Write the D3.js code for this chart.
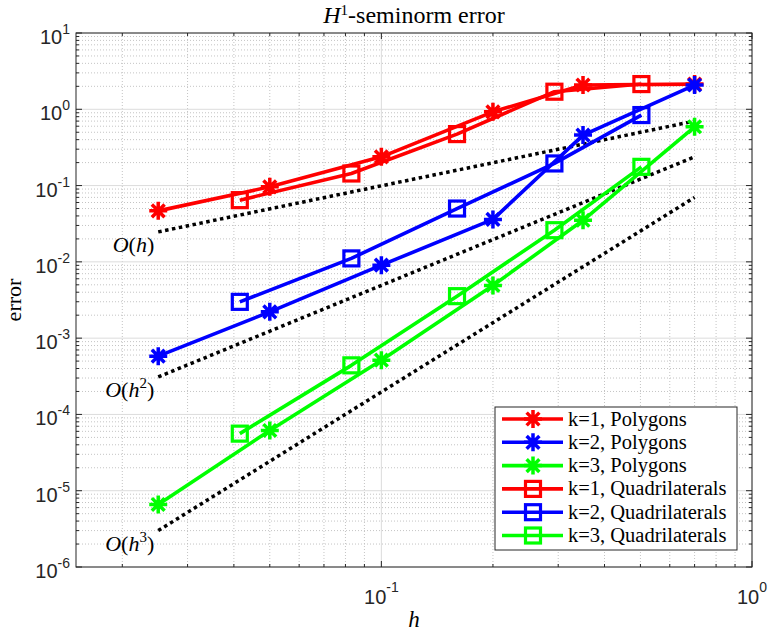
<!DOCTYPE html>
<html lang="en">
<head>
    <meta charset="UTF-8">
    <style>
        body { margin: 0; background: #fff; }
        svg { display: block; }
    </style>
</head>
<body>
    <script src="https://d3js.org/d3.v7.min.js"></script>
    <div id="here"></div>

    <script>
        // mesh size h for the two mesh families
        const hPoly = [0.025, 0.05, 0.1, 0.2, 0.35, 0.7];
        const hQuad = [0.0415, 0.083, 0.16, 0.293, 0.503];

        // H1-seminorm errors
        const errPolyK1 = [0.0466, 0.0963, 0.238, 0.927, 2.08, 2.14];
        const errPolyK2 = [5.8e-4, 2.21e-3, 9.04e-3, 0.036, 0.459, 2.08];
        const errPolyK3 = [6.6e-6, 6.16e-5, 5.14e-4, 4.9e-3, 0.0351, 0.59];
        const errQuadK1 = [0.0644, 0.144, 0.473, 1.70, 2.14];
        const errQuadK2 = [2.99e-3, 0.0111, 0.050, 0.195, 0.84];
        const errQuadK3 = [5.6e-5, 4.4e-4, 3.55e-3, 0.026, 0.176];

        const seriesNames = ["k=1, Polygons", "k=2, Polygons", "k=3, Polygons",
                             "k=1, Quadrilaterals", "k=2, Quadrilaterals", "k=3, Quadrilaterals"];

        // reference slopes (end points)
        const refH = [0.025, 0.7];
        const refOh = [0.0247, 0.7];
        const refOh2 = [3.1e-4, 0.238];
        const refOh3 = [3.0e-6, 0.07];
        const refPowers = ["", "2", "3"];

        const xTickExps = [-1, 0];
        const yTickExps = [-6, -5, -4, -3, -2, -1, 0, 1];

        const W = 769, H = 632;
        const margin = {top: 33, right: 17, bottom: 65, left: 76};
        const width = W - margin.left - margin.right,
              height = H - margin.top - margin.bottom;

        const svg = d3.select("#here").append("svg")
            .attr("width", W).attr("height", H);
        const g = svg.append("g")
            .attr("transform", `translate(${margin.left},${margin.top})`);

        const x = d3.scaleLog().domain([0.015, 1]).range([0, width]);
        const y = d3.scaleLog().domain([1e-6, 10]).range([height, 0]);

        const xMinor = [];
        for (const e of [-2, -1]) for (let m = 2; m <= 9; m++) {
            const v = m * Math.pow(10, e);
            if (v > 0.015) xMinor.push(v);
        }
        const yMinor = [];
        for (let e = -6; e <= 0; e++) for (let m = 2; m <= 9; m++) yMinor.push(m * Math.pow(10, e));

        // grid
        const grid = g.append("g");
        grid.selectAll(".xm").data(xMinor).join("line")
            .attr("x1", d => x(d)).attr("x2", d => x(d)).attr("y1", 0).attr("y2", height)
            .attr("stroke", "#c4c4c4").attr("stroke-dasharray", "1,2");
        grid.selectAll(".ym").data(yMinor).join("line")
            .attr("y1", d => y(d)).attr("y2", d => y(d)).attr("x1", 0).attr("x2", width)
            .attr("stroke", "#c4c4c4").attr("stroke-dasharray", "1,2");
        grid.selectAll(".xM").data(xTickExps).join("line")
            .attr("x1", d => x(Math.pow(10, d))).attr("x2", d => x(Math.pow(10, d)))
            .attr("y1", 0).attr("y2", height).attr("stroke", "#dcdcdc");
        grid.selectAll(".yM").data(yTickExps).join("line")
            .attr("y1", d => y(Math.pow(10, d))).attr("y2", d => y(Math.pow(10, d)))
            .attr("x1", 0).attr("x2", width).attr("stroke", "#dcdcdc");

        // reference lines
        const refData = [refOh, refOh2, refOh3];
        const refG = g.append("g");
        refData.forEach((vals, i) => {
            refG.append("line")
                .attr("x1", x(refH[0])).attr("y1", y(vals[0]))
                .attr("x2", x(refH[1])).attr("y2", y(vals[1]))
                .attr("stroke", "#000").attr("stroke-width", 3.5)
                .attr("stroke-dasharray", "3.5,3.5");
            const t = refG.append("text")
                .attr("x", x(refH[0]) - 4).attr("y", y(vals[0]) + 20)
                .attr("text-anchor", "end")
                .attr("font-family", "Liberation Serif, serif").attr("font-size", 22);
            t.append("tspan").attr("font-style", "italic").text("O");
            t.append("tspan").text("(");
            t.append("tspan").attr("font-style", "italic").text("h");
            if (refPowers[i]) t.append("tspan").attr("font-size", 15).attr("dy", -9).text(refPowers[i]);
            t.append("tspan").attr("dy", refPowers[i] ? 9 : 0).text(")");
        });

        // series
        const series = [
            {h: hPoly, e: errPolyK1, color: "#ff0000", marker: "star"},
            {h: hPoly, e: errPolyK2, color: "#0000ff", marker: "star"},
            {h: hPoly, e: errPolyK3, color: "#00ff00", marker: "star"},
            {h: hQuad, e: errQuadK1, color: "#ff0000", marker: "square"},
            {h: hQuad, e: errQuadK2, color: "#0000ff", marker: "square"},
            {h: hQuad, e: errQuadK3, color: "#00ff00", marker: "square"}
        ];

        const starPath = r => {
            const d = r * Math.SQRT1_2;
            return `M${-r},0L${r},0M0,${-r}L0,${r}M${-d},${-d}L${d},${d}M${-d},${d}L${d},${-d}`;
        };
        const drawMarker = (sel, s) => {
            if (s.marker === "star") {
                sel.append("path").attr("d", starPath(9))
                    .attr("stroke", s.color).attr("stroke-width", 3.5).attr("fill", "none");
            } else {
                sel.append("rect").attr("x", -7.5).attr("y", -7.5).attr("width", 15).attr("height", 15)
                    .attr("stroke", s.color).attr("stroke-width", 3.2).attr("fill", "none");
            }
        };

        const line = d3.line().x(d => x(d[0])).y(d => y(d[1]));
        series.forEach(s => {
            const pts = s.h.map((h, i) => [h, s.e[i]]);
            const sg = g.append("g");
            sg.append("path").datum(pts).attr("d", line)
                .attr("fill", "none").attr("stroke", s.color).attr("stroke-width", 3.6)
                .attr("stroke-linejoin", "round");
            sg.selectAll(".m").data(pts).join("g")
                .attr("transform", d => `translate(${x(d[0])},${y(d[1])})`)
                .each(function () { drawMarker(d3.select(this), s); });
        });

        // axes box + ticks (inside, all four sides)
        const ax = g.append("g").attr("stroke", "#262626").attr("stroke-width", 1);
        ax.append("rect").attr("width", width).attr("height", height).attr("fill", "none");
        const xTicks = xTickExps.map(e => ({v: Math.pow(10, e), len: 6})).concat(xMinor.map(v => ({v, len: 3})));
        const yTicks = yTickExps.map(e => ({v: Math.pow(10, e), len: 6})).concat(yMinor.map(v => ({v, len: 3})));
        xTicks.forEach(t => {
            ax.append("line").attr("x1", x(t.v)).attr("x2", x(t.v)).attr("y1", height).attr("y2", height - t.len);
            ax.append("line").attr("x1", x(t.v)).attr("x2", x(t.v)).attr("y1", 0).attr("y2", t.len);
        });
        yTicks.forEach(t => {
            ax.append("line").attr("y1", y(t.v)).attr("y2", y(t.v)).attr("x1", 0).attr("x2", t.len);
            ax.append("line").attr("y1", y(t.v)).attr("y2", y(t.v)).attr("x1", width).attr("x2", width - t.len);
        });

        // tick labels
        const tickFont = "Liberation Sans, Arial, sans-serif";
        yTickExps.forEach(e => {
            const t = g.append("text")
                .attr("x", -6).attr("y", y(Math.pow(10, e)) + 11)
                .attr("text-anchor", "end").attr("font-family", tickFont)
                .attr("font-size", 20).attr("fill", "#262626");
            t.append("tspan").text("10");
            t.append("tspan").attr("font-size", 14).attr("dy", -10).text(e < 0 ? "-" + (-e) : e);
        });
        xTickExps.forEach(e => {
            const t = g.append("text")
                .attr("x", x(Math.pow(10, e))).attr("y", height + 37)
                .attr("text-anchor", "middle").attr("font-family", tickFont)
                .attr("font-size", 20).attr("fill", "#262626");
            t.append("tspan").text("10");
            t.append("tspan").attr("font-size", 14).attr("dy", -12).text(e < 0 ? "-" + (-e) : e);
        });

        // title and axis labels
        const serif = "Liberation Serif, serif";
        const title = svg.append("text")
            .attr("x", margin.left + width / 2).attr("y", 23)
            .attr("text-anchor", "middle").attr("font-family", serif).attr("font-size", 24);
        title.append("tspan").attr("font-style", "italic").text("H");
        title.append("tspan").attr("font-size", 15).attr("dy", -8).text("1");
        title.append("tspan").attr("dy", 8).text("-seminorm error");

        svg.append("text")
            .attr("x", margin.left + width / 2).attr("y", 627)
            .attr("text-anchor", "middle").attr("font-family", serif)
            .attr("font-size", 23).attr("font-style", "italic").text("h");

        svg.append("text")
            .attr("transform", `translate(21,${margin.top + height / 2}) rotate(-90)`)
            .attr("text-anchor", "middle").attr("font-family", serif)
            .attr("font-size", 22).text("error");

        // legend
        const lg = svg.append("g").attr("transform", "translate(495,407)");
        lg.append("rect").attr("width", 242).attr("height", 143)
            .attr("fill", "#fff").attr("stroke", "#262626").attr("stroke-width", 1);
        series.forEach((s, i) => {
            const row = lg.append("g").attr("transform", `translate(0,${12 + i * 23.3})`);
            row.append("line").attr("x1", 7).attr("x2", 68).attr("y1", 0).attr("y2", 0)
                .attr("stroke", s.color).attr("stroke-width", 3.6);
            const mg = row.append("g").attr("transform", "translate(38,0)");
            drawMarker(mg, s);
            row.append("text").attr("x", 73).attr("y", 6.5)
                .attr("font-family", serif).attr("font-size", 20.5)
                .text(seriesNames[i]);
        });
    </script>
</body>
</html>
